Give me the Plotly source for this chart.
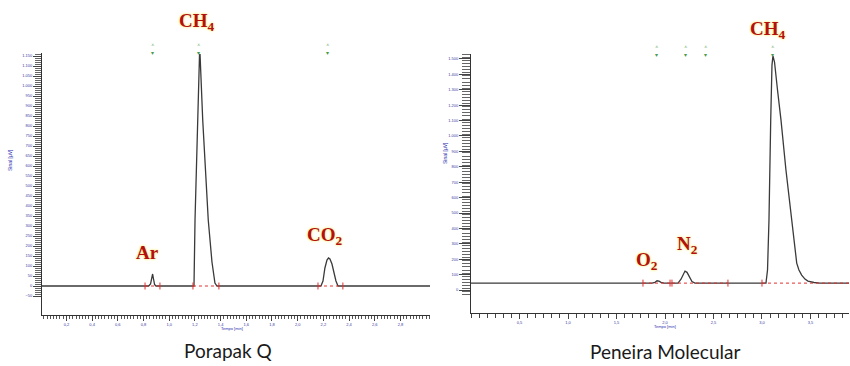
import plotly.graph_objects as go

# ---------------- Porapak Q (left) ----------------
pq_time = [0.01, 0.84, 0.855, 0.864, 0.871, 0.878, 0.886, 0.897,
           1.193, 1.201, 1.219, 1.236, 1.240, 1.261, 1.304, 1.333, 1.356, 1.372,
           2.181, 2.197, 2.212, 2.228, 2.240, 2.251, 2.267, 2.282, 2.298, 2.314, 3.03]
pq_signal = [0, 0, 10, 35, 60, 35, 8, 0,
             0, 330, 830, 1155, 1160, 830, 330, 120, 15, 0,
             0, 25, 90, 130, 140, 135, 110, 70, 25, 0, 0]
pq_int_start = [0.812, 1.185, 2.158]
pq_int_end = [0.928, 1.387, 2.352]
pq_marker_time = [0.874, 1.232, 2.236]
pq_labels = ["Ar", "CH<sub>4</sub>", "CO<sub>2</sub>"]
pq_label_time = [0.835, 1.216, 2.212]
pq_yticks = list(range(-50, 1151, 50))
pq_xticks = [0.2, 0.4, 0.6, 0.8, 1.0, 1.2, 1.4, 1.6, 1.8, 2.0, 2.2, 2.4, 2.6, 2.8]

# ---------------- Peneira Molecular (right) ----------------
pm_time = [0.0, 1.866, 1.897, 1.918, 1.938, 1.959, 1.990,
           2.134, 2.165, 2.191, 2.206, 2.227, 2.253, 2.278, 2.309,
           3.041, 3.057, 3.072, 3.090, 3.103, 3.113, 3.129, 3.160, 3.196, 3.247,
           3.306, 3.330, 3.358, 3.381, 3.409, 3.443, 3.474, 3.536, 3.598, 3.907]
pm_signal = [45, 45, 50, 60, 58, 50, 45,
             45, 70, 110, 123, 115, 85, 55, 45,
             45, 130, 454, 1103, 1460, 1520, 1480, 1298, 1103, 779,
             454, 292, 175, 130, 97, 71, 58, 49, 45, 45]
pm_int_start = [1.773, 2.072, 3.0]
pm_int_end = [2.052, 2.649, 3.907]
pm_baseline = 45
pm_marker_time = [1.918, 2.216, 2.423, 3.113]
pm_labels = ["O<sub>2</sub>", "N<sub>2</sub>", "CH<sub>4</sub>"]
pm_label_time = [1.814, 2.237, 3.062]
pm_yticks = list(range(0, 1501, 100))
pm_xticks = [0.5, 1.0, 1.5, 2.0, 2.5, 3.0, 3.5]

panel_titles = ["Porapak Q", "Peneira Molecular"]
y_title = "Sinal [µV]"
x_title = "Tempo [min]"

# label vertical placement (pixels from top of the 366px figure)
pq_label_py = [252, 22, 236]
pm_label_py = [261, 245, 30]

H = 366.0
W = 850.0


def py(p):
    return 1 - p / H


def px(p):
    return p / W


LINE = "#3a3a3a"
RED = "#e03030"
GREEN = "#4a9a4a"
TICKFONT = dict(family="Liberation Sans", size=4, color="#3a3aa0")
LABELFONT = dict(family="Liberation Serif", size=19, color="#b41010", weight="bold",
                 shadow="0px 0px 3px #f3ec7a, 0px 0px 2px #f6f09a")

fig = go.Figure()


def seg(starts, ends, base):
    xs, ys = [], []
    for s, e in zip(starts, ends):
        xs += [s, e, None]
        ys += [base, base, None]
    return xs, ys


# left traces
fig.add_trace(go.Scatter(x=pq_time, y=pq_signal, mode="lines",
                         line=dict(color=LINE, width=1.3), xaxis="x", yaxis="y", hoverinfo="skip"))
sx, sy = seg(pq_int_start, pq_int_end, 0)
fig.add_trace(go.Scatter(x=sx, y=sy, mode="lines+markers",
                         line=dict(color=RED, width=1, dash="dot"),
                         marker=dict(symbol="line-ns", size=5, line=dict(color=RED, width=1)),
                         xaxis="x", yaxis="y", hoverinfo="skip"))

# right traces
fig.add_trace(go.Scatter(x=pm_time, y=pm_signal, mode="lines",
                         line=dict(color=LINE, width=1.3), xaxis="x2", yaxis="y2", hoverinfo="skip"))
sx, sy = seg(pm_int_start, pm_int_end, pm_baseline)
fig.add_trace(go.Scatter(x=sx, y=sy, mode="lines+markers",
                         line=dict(color=RED, width=1, dash="dot"),
                         marker=dict(symbol="line-ns", size=5, line=dict(color=RED, width=1)),
                         xaxis="x2", yaxis="y2", hoverinfo="skip"))

annotations = []
for t, p, s in zip(pq_label_time, pq_label_py, pq_labels):
    annotations.append(dict(x=t, y=py(p), xref="x", yref="paper", text=s, showarrow=False,
                            xanchor="center", yanchor="middle", font=LABELFONT))
for t, p, s in zip(pm_label_time, pm_label_py, pm_labels):
    annotations.append(dict(x=t, y=py(p), xref="x2", yref="paper", text=s, showarrow=False,
                            xanchor="center", yanchor="middle", font=LABELFONT))

# green peak-detection markers above the plot area
MK = dict(showarrow=False, xanchor="center", yanchor="middle", yref="paper",
          font=dict(family="DejaVu Sans", size=6, color=GREEN))
for t in pq_marker_time:
    annotations.append(dict(x=t, xref="x", y=py(48), text="⩡<br>▾", **MK))
for t in pm_marker_time:
    annotations.append(dict(x=t, xref="x2", y=py(50), text="⩡<br>▾", **MK))

AXT = dict(family="Liberation Sans", color="#3030b0")
annotations += [
    dict(x=px(10), y=py(160), xref="paper", yref="paper", text=y_title, textangle=-90,
         showarrow=False, xanchor="center", yanchor="middle", font=dict(size=5, **AXT)),
    dict(x=px(445), y=py(153), xref="paper", yref="paper", text=y_title, textangle=-90,
         showarrow=False, xanchor="center", yanchor="middle", font=dict(size=5, **AXT)),
    dict(x=px(232), y=py(328), xref="paper", yref="paper", text=x_title,
         showarrow=False, xanchor="center", yanchor="middle", font=dict(size=4, **AXT)),
    dict(x=px(665), y=py(326), xref="paper", yref="paper", text=x_title,
         showarrow=False, xanchor="center", yanchor="middle", font=dict(size=4, **AXT)),
    dict(x=px(228), y=py(350), xref="paper", yref="paper", text=panel_titles[0],
         showarrow=False, xanchor="center", yanchor="middle",
         font=dict(family="Lato", size=19, color="#1a1a1a")),
    dict(x=px(665), y=py(351), xref="paper", yref="paper", text=panel_titles[1],
         showarrow=False, xanchor="center", yanchor="middle",
         font=dict(family="Lato", size=19, color="#1a1a1a")),
]

common_x = dict(showgrid=False, zeroline=False, showline=True, linecolor="#333", linewidth=1,
                ticks="outside", tickcolor="#444", tickfont=TICKFONT, ticklen=5, tickwidth=1)
common_y = dict(showgrid=False, zeroline=False, showline=True, linecolor="#333", linewidth=1,
                ticks="outside", tickcolor="#444", tickfont=TICKFONT, tickwidth=1,
                separatethousands=True)

fig.update_layout(
    width=850, height=366,
    margin=dict(l=0, r=0, t=0, b=0),
    paper_bgcolor="white", plot_bgcolor="rgba(0,0,0,0)",
    showlegend=False,
    separators=",.",
    xaxis=dict(domain=[px(42), px(430)], range=[0.01, 3.03], anchor="y",
               tickmode="array", tickvals=pq_xticks, tickformat=".1f",
               minor=dict(dtick=0.025, tick0=0, ticks="outside", ticklen=3, tickcolor="#555"),
               **common_x),
    yaxis=dict(domain=[py(315), py(53)], range=[-145, 1165], anchor="x",
               tickmode="array", tickvals=pq_yticks, ticklen=8,
               minor=dict(tickmode="array", tickvals=list(range(-50, 1161, 10)),
                          ticks="outside", ticklen=6, tickcolor="#666"),
               **common_y),
    xaxis2=dict(domain=[px(471), px(849)], range=[0.0, 3.897], anchor="y2",
                tickmode="array", tickvals=pm_xticks, tickformat=".1f",
                minor=dict(dtick=1 / 12, tick0=0, ticks="outside", ticklen=4, tickcolor="#444"),
                **common_x),
    yaxis2=dict(domain=[py(313), py(54)], range=[-149, 1532], anchor="x2",
                tickmode="array", tickvals=pm_yticks, ticklen=11,
                minor=dict(tickmode="array", tickvals=list(range(-30, 1531, 20)),
                           ticks="outside", ticklen=8, tickcolor="#666"),
                **common_y),
    annotations=annotations,
)

fig.write_html("out.html", config={"displayModeBar": False},
               post_script="document.body.style.margin='0';")
